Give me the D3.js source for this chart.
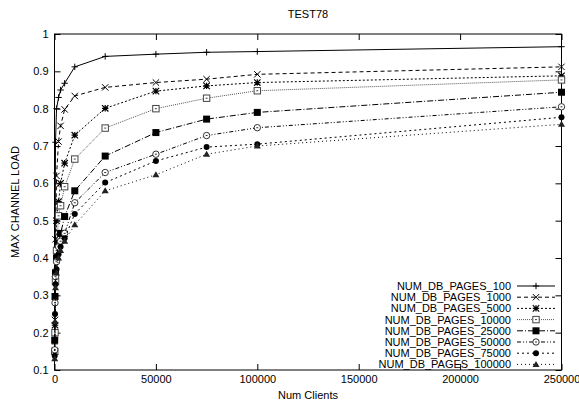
<!DOCTYPE html>
<html><head><meta charset="utf-8">
<script src="https://cdn.jsdelivr.net/npm/d3@7"></script>
<style>
body{margin:0;background:#fff;}
text{font-family:"Liberation Sans",Arial,Helvetica,sans-serif;}
</style></head>
<body>
<svg id="c" width="579" height="402"></svg>
<script>
const xValues = [100, 250, 500, 1000, 2000, 3000, 5000, 10000, 25000, 50000, 75000, 100000, 250000];
const seriesNames = ["NUM_DB_PAGES_100","NUM_DB_PAGES_1000","NUM_DB_PAGES_5000","NUM_DB_PAGES_10000","NUM_DB_PAGES_25000","NUM_DB_PAGES_50000","NUM_DB_PAGES_75000","NUM_DB_PAGES_100000"];
const s100    = [0.17, 0.35, 0.71, 0.80, 0.83, 0.85, 0.868, 0.912, 0.940, 0.946, 0.951, 0.953, 0.966];
const s1000   = [0.15, 0.234, 0.45, 0.62, 0.712, 0.754, 0.798, 0.834, 0.857, 0.870, 0.879, 0.892, 0.912];
const s5000   = [0.15, 0.22, 0.36, 0.50, 0.551, 0.60, 0.654, 0.729, 0.801, 0.847, 0.861, 0.870, 0.888];
const s10000  = [0.15, 0.20, 0.337, 0.42, 0.513, 0.54, 0.591, 0.665, 0.748, 0.800, 0.828, 0.848, 0.877];
const s25000  = [0.18, 0.297, 0.36, 0.40, 0.44, 0.466, 0.511, 0.58, 0.673, 0.736, 0.772, 0.790, 0.844];
const s50000  = [0.154, 0.28, 0.35, 0.39, 0.43, 0.445, 0.466, 0.548, 0.629, 0.678, 0.728, 0.749, 0.805];
const s75000  = [0.138, 0.25, 0.33, 0.37, 0.41, 0.43, 0.453, 0.518, 0.602, 0.660, 0.697, 0.705, 0.777];
const s100000 = [0.13, 0.23, 0.32, 0.36, 0.40, 0.42, 0.445, 0.489, 0.580, 0.623, 0.678, 0.700, 0.758];
const xTicks = [0, 50000, 100000, 150000, 200000, 250000];
const yTicks = [0.1, 0.2, 0.3, 0.4, 0.5, 0.6, 0.7, 0.8, 0.9, 1];

const allSeries = [s100, s1000, s5000, s10000, s25000, s50000, s75000, s100000];
const dashes = ["", "4,3", "2,2", "1,1", "6,2,1,2", "4,2,1,2,1,2", "2,3", "1,3"];
const strokes = ["#000", "#000", "#000", "#555", "#000", "#000", "#000", "#000"];
const markers = ["plus", "cross", "star", "sqOpen", "sqFill", "circOpen", "circFill", "triFill"];

const svg = d3.select("#c");
const L = 54.5, R = 561.5, T = 34, B = 370;
const x = d3.scaleLinear().domain([0, 250000]).range([L, R]);
const y = d3.scaleLinear().domain([0.1, 1]).range([B, T]);

svg.append("text").attr("x", (L+R)/2).attr("y", 18).attr("text-anchor","middle").attr("font-size", 11).text("TEST78");
svg.append("text").attr("x", (L+R)/2).attr("y", 399).attr("text-anchor","middle").attr("font-size", 11).text("Num Clients");
svg.append("text").attr("transform", `translate(19,${(T+B)/2}) rotate(-90)`).attr("text-anchor","middle").attr("font-size", 11).text("MAX CHANNEL LOAD");

function styleAxis(g){ g.select(".domain").remove(); g.selectAll("line").attr("stroke","#000"); g.selectAll("text").attr("font-size", 11).attr("font-family","'Liberation Sans',Arial,sans-serif").attr("fill","#000"); }

svg.append("g").attr("transform", `translate(${L},0)`).call(d3.axisLeft(y).tickValues(yTicks).tickFormat(d3.format("~g")).tickSize(-6).tickPadding(6)).call(styleAxis);
svg.append("g").attr("transform", `translate(${R},0)`).call(d3.axisRight(y).tickValues(yTicks).tickFormat("").tickSize(-6)).call(styleAxis);
svg.append("g").attr("transform", `translate(0,${B})`).call(d3.axisBottom(x).tickValues(xTicks).tickFormat(d3.format("d")).tickSize(-6).tickPadding(5)).call(styleAxis);
svg.append("g").attr("transform", `translate(0,${T})`).call(d3.axisTop(x).tickValues(xTicks).tickFormat("").tickSize(-6)).call(styleAxis);

svg.append("rect").attr("x", L).attr("y", T).attr("width", R-L).attr("height", B-T).attr("fill","none").attr("stroke","#000").attr("stroke-width",1);

function drawMarker(g, type, cx, cy){
  const s = 3.2;
  if(type==="plus"){
    g.append("path").attr("d",`M${cx-s},${cy}H${cx+s}M${cx},${cy-s}V${cy+s}`).attr("stroke","#000").attr("fill","none");
  } else if(type==="cross"){
    g.append("path").attr("d",`M${cx-s},${cy-s}L${cx+s},${cy+s}M${cx-s},${cy+s}L${cx+s},${cy-s}`).attr("stroke","#000").attr("fill","none");
  } else if(type==="star"){
    g.append("path").attr("d",`M${cx-s},${cy}H${cx+s}M${cx},${cy-s}V${cy+s}M${cx-s},${cy-s}L${cx+s},${cy+s}M${cx-s},${cy+s}L${cx+s},${cy-s}`).attr("stroke","#000").attr("stroke-width",1.2).attr("fill","none");
  } else if(type==="sqOpen"){
    g.append("rect").attr("x",cx-s).attr("y",cy-s).attr("width",2*s).attr("height",2*s).attr("fill","#fff").attr("stroke","#444");
    g.append("rect").attr("x",cx-1).attr("y",cy-0.5).attr("width",2).attr("height",1).attr("fill","#444");
  } else if(type==="sqFill"){
    g.append("rect").attr("x",cx-3.5).attr("y",cy-3.5).attr("width",7).attr("height",7).attr("fill","#000");
  } else if(type==="circOpen"){
    g.append("circle").attr("cx",cx).attr("cy",cy).attr("r",3.2).attr("fill","#fff").attr("stroke","#333");
    g.append("rect").attr("x",cx-1).attr("y",cy-0.5).attr("width",2).attr("height",1).attr("fill","#333");
  } else if(type==="circFill"){
    g.append("circle").attr("cx",cx).attr("cy",cy).attr("r",3).attr("fill","#000");
  } else if(type==="triFill"){
    g.append("path").attr("d",`M${cx},${cy-3.5}L${cx+3.5},${cy+2.5}L${cx-3.5},${cy+2.5}Z`).attr("fill","#222");
  }
}

const line = d3.line().x(d => x(d[0])).y(d => y(d[1]));
allSeries.forEach((vals, i) => {
  const pts = xValues.map((xv, j) => [xv, vals[j]]);
  const g = svg.append("g");
  g.append("path").attr("d", line(pts)).attr("fill","none").attr("stroke", strokes[i]).attr("stroke-width",1).attr("stroke-dasharray", dashes[i]);
  pts.forEach(p => drawMarker(g, markers[i], x(p[0]), y(p[1])));
});

// legend
const legX = 511, legY0 = 286, legDy = 11.2;
seriesNames.forEach((name, i) => {
  const yy = legY0 + i*legDy;
  svg.append("text").attr("x", legX).attr("y", yy + 4).attr("text-anchor","end").attr("font-size", 11).text(name);
  const g = svg.append("g");
  g.append("line").attr("x1", 517).attr("x2", 555).attr("y1", yy).attr("y2", yy).attr("stroke", strokes[i]).attr("stroke-dasharray", dashes[i]);
  drawMarker(g, markers[i], 536, yy);
});
</script>
</body></html>
